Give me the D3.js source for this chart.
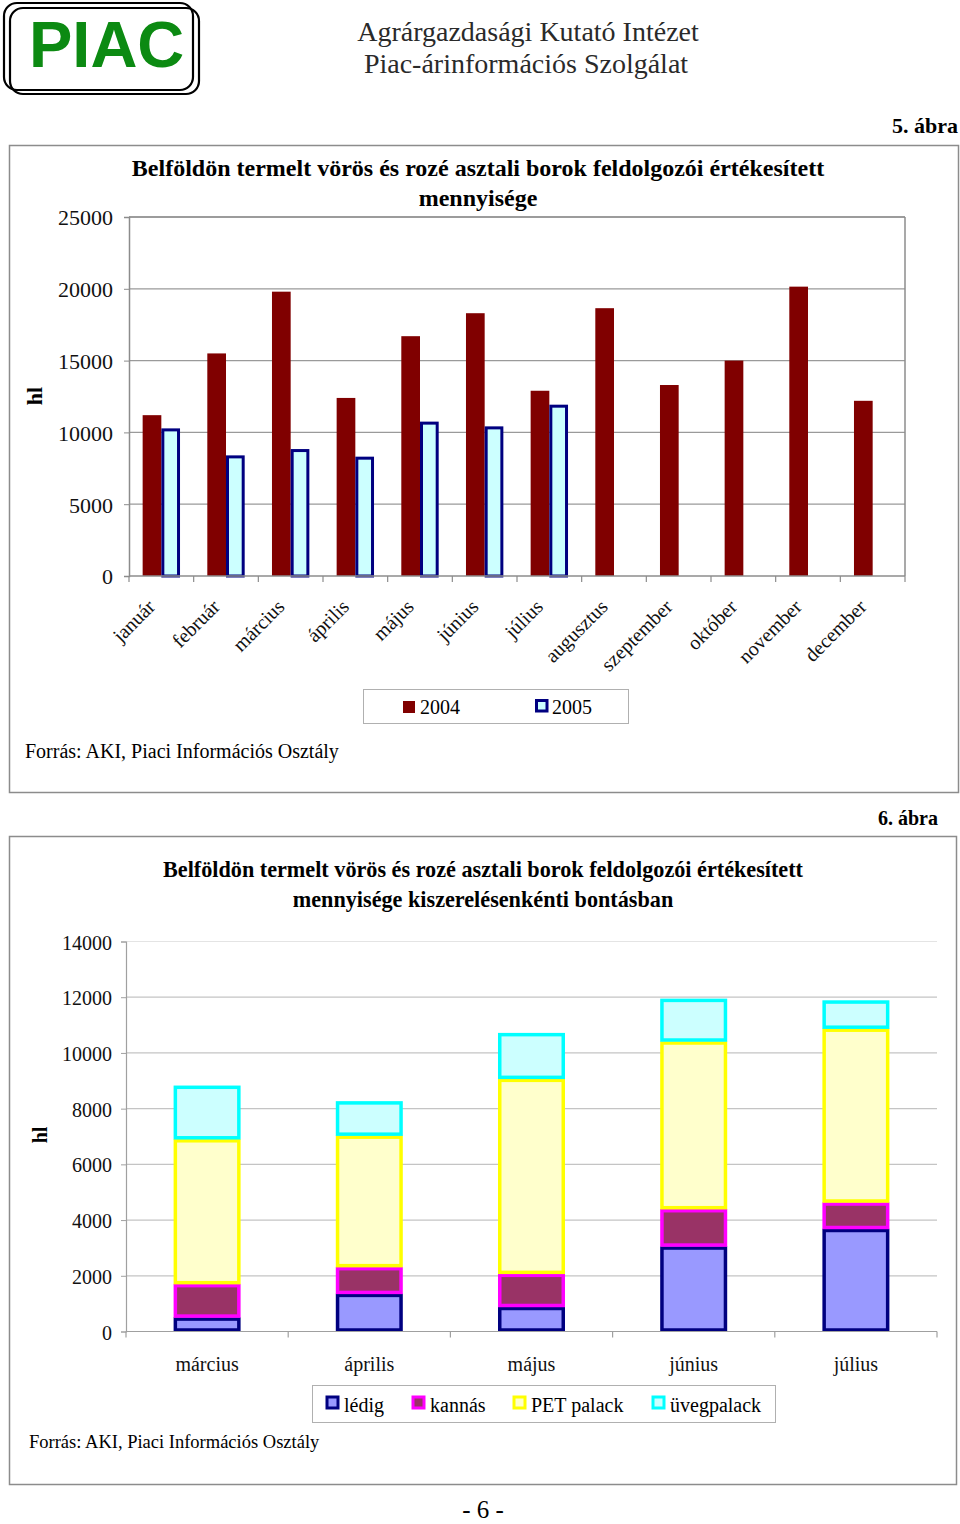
<!DOCTYPE html>
<html><head><meta charset="utf-8">
<script src="https://cdn.jsdelivr.net/npm/d3@7"></script>
<style>
html,body{margin:0;padding:0;background:#fff;}
svg{display:block;font-family:"Liberation Serif","Times New Roman",serif;}
</style></head>
<body>
<svg id="page" width="960" height="1524"></svg>
<script>
// ---------- DATA ----------
const months = ["január","február","március","április","május","június","július","augusztus","szeptember","október","november","december"];
const years = ["2004","2005"];
const values2004 = [11200,15500,19800,12400,16700,18300,12900,18650,13300,15000,20150,12200];
const values2005 = [10280,8400,8840,8310,10750,10420,11930,null,null,null,null,null];
const ticks1 = [0,5000,10000,15000,20000,25000];

const months2 = ["március","április","május","június","július"];
const packTypes = ["lédig","kannás","PET palack","üvegpalack"];
const ledig = [500,1350,880,3050,3680];
const kannas = [1200,960,1190,1340,950];
const petPalack = [5200,4720,7000,6020,6240];
const uvegpalack = [1920,1230,1640,1530,1010];
const ticks2 = [0,2000,4000,6000,8000,10000,12000,14000];

const svg = d3.select("#page");
const SERIF = "Liberation Serif, Times New Roman, serif";

// ---------- HEADER ----------
const logo = svg.append("g");
logo.append("rect").attr("x",4).attr("y",3).attr("width",189).attr("height",87).attr("rx",13)
  .attr("fill","none").attr("stroke","#000").attr("stroke-width",2.2);
logo.append("rect").attr("x",10).attr("y",8).attr("width",189).attr("height",86).attr("rx",13)
  .attr("fill","none").attr("stroke","#000").attr("stroke-width",2.2);
logo.append("text").attr("x",29).attr("y",67).attr("font-family","Liberation Sans, Arial, sans-serif")
  .attr("font-weight","bold").attr("font-size",65).attr("fill","#0c8a12").text("PIAC");
svg.append("text").attr("x",528).attr("y",41).attr("text-anchor","middle").attr("font-size",28).attr("fill","#2a2a2a")
  .text("Agrárgazdasági Kutató Intézet");
svg.append("text").attr("x",526).attr("y",73).attr("text-anchor","middle").attr("font-size",28).attr("fill","#2a2a2a")
  .text("Piac-árinformációs Szolgálat");

// ---------- CHART 1 ----------
svg.append("text").attr("x",958).attr("y",133).attr("text-anchor","end").attr("font-weight","bold").attr("font-size",22).text("5. ábra");
svg.append("rect").attr("x",9.5).attr("y",145.5).attr("width",949).attr("height",647)
  .attr("fill","#fff").attr("stroke","#8c8c8c").attr("stroke-width",1.5);

const c1 = {l:129,r:905,t:217,b:576};
const x1 = d3.scaleBand().domain(months).range([c1.l,c1.r]).paddingInner(0).paddingOuter(0);
const xs1 = d3.scaleBand().domain(years).range([0,x1.bandwidth()]).paddingInner(0).paddingOuter(0.73);
const y1 = d3.scaleLinear().domain([0,25000]).range([c1.b,c1.t]);

const g1 = svg.append("g");
g1.selectAll("line.grid").data(ticks1.filter(t=>t>0)).join("line")
  .attr("x1",c1.l).attr("x2",c1.r).attr("y1",d=>y1(d)).attr("y2",d=>y1(d))
  .attr("stroke","#9a9a9a").attr("stroke-width",1.2);
g1.append("line").attr("x1",c1.r).attr("x2",c1.r).attr("y1",c1.t).attr("y2",c1.b).attr("stroke","#8c8c8c").attr("stroke-width",1.5);
g1.append("line").attr("x1",c1.l).attr("x2",c1.r).attr("y1",c1.t).attr("y2",c1.t).attr("stroke","#8c8c8c").attr("stroke-width",1.5);

// bars
g1.selectAll("rect.b04").data(values2004).join("rect")
  .attr("x",(d,i)=>x1(months[i])+xs1("2004")).attr("width",xs1.bandwidth())
  .attr("y",d=>y1(d)).attr("height",d=>y1(0)-y1(d)).attr("fill","#800000");
g1.selectAll("rect.b05").data(values2005.map((v,i)=>({v,i})).filter(d=>d.v!=null)).join("rect")
  .attr("x",d=>x1(months[d.i])+xs1("2005")+1.5).attr("width",xs1.bandwidth()-3)
  .attr("y",d=>y1(d.v)+1.5).attr("height",d=>y1(0)-y1(d.v)-1.5)
  .attr("fill","#ccffff").attr("stroke","#000080").attr("stroke-width",3);

// axes
const yAx1 = d3.axisLeft(y1).tickValues(ticks1).tickSize(5).tickFormat(d3.format("d"));
const ya1 = g1.append("g").attr("transform",`translate(${c1.l},0)`).call(yAx1);
ya1.select(".domain").attr("stroke","#8c8c8c").attr("stroke-width",1.5);
ya1.selectAll(".tick line").attr("stroke","#8c8c8c");
ya1.selectAll(".tick text").attr("font-size",22).attr("font-family",SERIF).attr("fill","#111").attr("x",-16).attr("dy","0.36em");

g1.append("line").attr("x1",c1.l).attr("x2",c1.r).attr("y1",c1.b).attr("y2",c1.b).attr("stroke","#8c8c8c").attr("stroke-width",1.5);
g1.selectAll("line.xt").data(d3.range(months.length+1)).join("line")
  .attr("x1",i=>c1.l+i*x1.step()).attr("x2",i=>c1.l+i*x1.step()).attr("y1",c1.b).attr("y2",c1.b+6)
  .attr("stroke","#8c8c8c").attr("stroke-width",1.2);
g1.selectAll("text.xl").data(months).join("text")
  .attr("transform",d=>`translate(${x1(d)+x1.bandwidth()/2-5},${c1.b+32}) rotate(-45)`)
  .attr("text-anchor","end").attr("font-size",20).attr("fill","#111").text(d=>d);

// y title
svg.append("text").attr("transform","translate(42,396) rotate(-90)").attr("text-anchor","middle")
  .attr("font-weight","bold").attr("font-size",22).text("hl");
// title
svg.append("text").attr("x",478).attr("y",176).attr("text-anchor","middle").attr("font-weight","bold").attr("font-size",24)
  .text("Belföldön termelt vörös és rozé asztali borok feldolgozói értékesített");
svg.append("text").attr("x",478).attr("y",206).attr("text-anchor","middle").attr("font-weight","bold").attr("font-size",24)
  .text("mennyisége");

// legend 1
const lg1 = svg.append("g");
lg1.append("rect").attr("x",363.5).attr("y",689.5).attr("width",265).attr("height",34).attr("fill","#fff").attr("stroke","#b0b0b0");
const lgx1 = [403,535];
lg1.selectAll("rect.sw").data(years).join("rect")
  .attr("x",(d,i)=>i===0?lgx1[i]:lgx1[i]+1.5).attr("y",(d,i)=>i===0?701:700.5)
  .attr("width",(d,i)=>i===0?12:10.5).attr("height",(d,i)=>i===0?12:10.5)
  .attr("fill",(d,i)=>i===0?"#800000":"#ccffff").attr("stroke",(d,i)=>i===0?"none":"#000080").attr("stroke-width",3);
lg1.selectAll("text").data(years).join("text")
  .attr("x",(d,i)=>lgx1[i]+17).attr("y",714).attr("font-size",20).text(d=>d);

svg.append("text").attr("x",25).attr("y",758).attr("font-size",20).text("Forrás: AKI, Piaci Információs Osztály");

// ---------- CHART 2 ----------
svg.append("text").attr("x",938).attr("y",825).attr("text-anchor","end").attr("font-weight","bold").attr("font-size",20).text("6. ábra");
svg.append("rect").attr("x",9.5).attr("y",836.5).attr("width",947).attr("height",648)
  .attr("fill","#fff").attr("stroke","#8c8c8c").attr("stroke-width",1.5);

svg.append("text").attr("x",483).attr("y",877).attr("text-anchor","middle").attr("font-weight","bold").attr("font-size",22.2)
  .text("Belföldön termelt vörös és rozé asztali borok feldolgozói értékesített");
svg.append("text").attr("x",483).attr("y",907).attr("text-anchor","middle").attr("font-weight","bold").attr("font-size",22.2)
  .text("mennyisége kiszerelésenkénti bontásban");

const c2 = {l:126,r:937,t:941.5,b:1331.5};
const x2 = d3.scaleBand().domain(months2).range([c2.l,c2.r]).paddingInner(0.59).paddingOuter(0.295);
const y2 = d3.scaleLinear().domain([0,14000]).range([c2.b,c2.t]);
const g2 = svg.append("g");
g2.selectAll("line.grid").data(ticks2.filter(t=>t>0)).join("line")
  .attr("x1",c2.l).attr("x2",c2.r).attr("y1",d=>y2(d)).attr("y2",d=>y2(d))
  .attr("stroke",d=>d===14000?"#e4e4e4":"#c4c4c4").attr("stroke-width",1.2);

const table2 = months2.map((m,i)=>({month:m,"lédig":ledig[i],"kannás":kannas[i],"PET palack":petPalack[i],"üvegpalack":uvegpalack[i]}));
const stack = d3.stack().keys(packTypes)(table2);
const fills = {"lédig":"#9999ff","kannás":"#993366","PET palack":"#ffffcc","üvegpalack":"#ccffff"};
const strokes = {"lédig":"#000080","kannás":"#ff00ff","PET palack":"#ffff00","üvegpalack":"#00ffff"};
stack.forEach(layer=>{
  g2.selectAll(null).data(layer).join("rect")
    .attr("x",d=>x2(d.data.month)+1.5).attr("width",x2.bandwidth()-3)
    .attr("y",d=>y2(d[1])+1.5).attr("height",d=>Math.max(0,y2(d[0])-y2(d[1])-3))
    .attr("fill",fills[layer.key]).attr("stroke",strokes[layer.key]).attr("stroke-width",3.5);
});

const yAx2 = d3.axisLeft(y2).tickValues(ticks2).tickSize(5).tickFormat(d3.format("d"));
const ya2 = g2.append("g").attr("transform",`translate(${c2.l},0)`).call(yAx2);
ya2.select(".domain").attr("stroke","#a0a0a0").attr("stroke-width",1.2);
ya2.selectAll(".tick line").attr("stroke","#a0a0a0");
ya2.selectAll(".tick text").attr("font-size",20).attr("font-family",SERIF).attr("fill","#111").attr("x",-14).attr("dy","0.38em");
g2.append("line").attr("x1",c2.l).attr("x2",c2.r).attr("y1",c2.b).attr("y2",c2.b).attr("stroke","#a0a0a0").attr("stroke-width",1.2);
g2.selectAll("line.xt").data(d3.range(months2.length+1)).join("line")
  .attr("x1",i=>c2.l+i*x2.step()).attr("x2",i=>c2.l+i*x2.step()).attr("y1",c2.b).attr("y2",c2.b+6)
  .attr("stroke","#a0a0a0").attr("stroke-width",1.2);
g2.selectAll("text.xl").data(months2).join("text")
  .attr("x",d=>x2(d)+x2.bandwidth()/2).attr("y",1371).attr("text-anchor","middle").attr("font-size",20).attr("fill","#111").text(d=>d);

svg.append("text").attr("transform","translate(47,1135) rotate(-90)").attr("text-anchor","middle")
  .attr("font-weight","bold").attr("font-size",20).text("hl");

// legend 2
const lg2 = svg.append("g");
lg2.append("rect").attr("x",312.5).attr("y",1385.5).attr("width",463).attr("height",37).attr("fill","#fff").attr("stroke","#b0b0b0");
const lgx2 = [326,412,513,652];
lg2.selectAll("rect.sw").data(packTypes).join("rect")
  .attr("x",(d,i)=>lgx2[i]+1).attr("y",1397).attr("width",11).attr("height",11)
  .attr("fill",d=>fills[d]).attr("stroke",d=>strokes[d]).attr("stroke-width",3);
lg2.selectAll("text").data(packTypes).join("text")
  .attr("x",(d,i)=>lgx2[i]+18).attr("y",1412).attr("font-size",20).text(d=>d);

svg.append("text").attr("x",29).attr("y",1448).attr("font-size",18.5).text("Forrás: AKI, Piaci Információs Osztály");

svg.append("text").attr("x",483).attr("y",1518).attr("text-anchor","middle").attr("font-size",25).text("- 6 -");
</script>
</body></html>
